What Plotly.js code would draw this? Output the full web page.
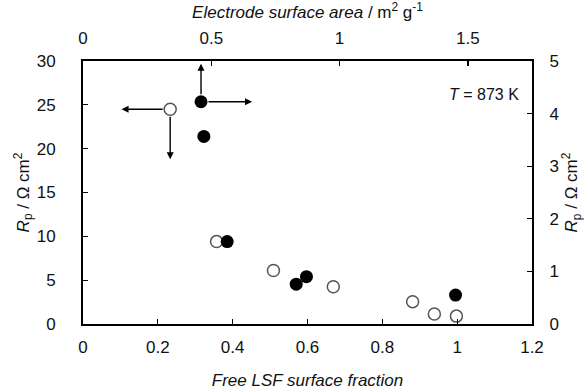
<!DOCTYPE html>
<html>
<head>
<meta charset="utf-8">
<script src="https://cdn.plot.ly/plotly-3.0.1.min.js"></script>
<style>html,body{margin:0;padding:0;background:#fff;}#chart{width:584px;height:390px;}</style>
</head>
<body>
<div id="chart"></div>
<script>
// Open circles: free LSF surface fraction (bottom axis) vs Rp (left axis, ohm cm2)
const lsfFraction = [0.233, 0.357, 0.509, 0.669, 0.881, 0.939, 0.998];
const rpOpen = [24.5, 9.4, 6.1, 4.25, 2.55, 1.15, 0.9];
// Filled circles: electrode surface area (top axis, m2/g) vs Rp (right axis, ohm cm2)
const surfaceArea = [0.460, 0.471, 0.562, 0.831, 0.871, 1.452];
const rpFilled = [4.225, 3.567, 1.567, 0.758, 0.90, 0.55];

const xTicksBottom = [0, 0.2, 0.4, 0.6, 0.8, 1, 1.2];
const xTicksTop = [0, 0.5, 1, 1.5];
const yTicksLeft = [0, 5, 10, 15, 20, 25, 30];
const yTicksRight = [0, 1, 2, 3, 4, 5];

const FONT = 'Liberation Sans, Arial, sans-serif';

const traces = [
  {
    x: lsfFraction, y: rpOpen, xaxis: 'x', yaxis: 'y',
    mode: 'markers', type: 'scatter', cliponaxis: false,
    marker: {size: 12, color: '#ffffff', line: {color: '#555555', width: 1.5}},
    showlegend: false
  },
  {
    x: surfaceArea, y: rpFilled, xaxis: 'x2', yaxis: 'y2',
    mode: 'markers', type: 'scatter', cliponaxis: false,
    marker: {size: 13, color: '#000000', line: {color: '#000000', width: 0}},
    showlegend: false
  }
];

const axisCommon = {
  showline: true, linecolor: '#000', linewidth: 2,
  ticks: 'inside', ticklen: 5, tickwidth: 1.3, tickcolor: '#000',
  showgrid: false, zeroline: false,
  tickfont: {family: FONT, size: 17, color: '#111'}
};

// arrows pointing from the reference points to their axes
const annotations = [
  {xref: 'x2', yref: 'y2', axref: 'x2', ayref: 'y2',
   x: surfaceArea[0], y: 4.95, ax: surfaceArea[0], ay: rpFilled[0],
   showarrow: true, arrowhead: 2, arrowsize: 1, arrowwidth: 1.4, arrowcolor: '#000', startstandoff: 6, text: ''},
  {xref: 'x2', yref: 'y2', axref: 'x2', ayref: 'y2',
   x: 0.659, y: rpFilled[0], ax: surfaceArea[0], ay: rpFilled[0],
   showarrow: true, arrowhead: 2, arrowsize: 1, arrowwidth: 1.4, arrowcolor: '#000', startstandoff: 6, text: ''},
  {xref: 'x', yref: 'y', axref: 'x', ayref: 'y',
   x: 0.103, y: rpOpen[0], ax: lsfFraction[0], ay: rpOpen[0],
   showarrow: true, arrowhead: 2, arrowsize: 1, arrowwidth: 1.4, arrowcolor: '#000', startstandoff: 6, text: ''},
  {xref: 'x', yref: 'y', axref: 'x', ayref: 'y',
   x: lsfFraction[0], y: 18.8, ax: lsfFraction[0], ay: rpOpen[0],
   showarrow: true, arrowhead: 2, arrowsize: 1, arrowwidth: 1.4, arrowcolor: '#000', startstandoff: 6, text: ''},
  {xref: 'x', yref: 'y', x: 1.17, y: 26.2, xanchor: 'right', yanchor: 'middle',
   text: '<i>T</i> = 873 K', showarrow: false,
   font: {family: FONT, size: 16, color: '#111'}}
];

const layout = {
  width: 584, height: 390,
  margin: {l: 83, r: 52, t: 61, b: 66, pad: 0},
  paper_bgcolor: '#fff', plot_bgcolor: '#fff',
  showlegend: false,
  font: {family: FONT, color: '#111'},
  xaxis: Object.assign({}, axisCommon, {
    range: [0, 1.2], tickvals: xTicksBottom, ticktext: xTicksBottom.map(String),
    ticklabelstandoff: 7,
    title: {text: '<i>Free LSF surface fraction</i>', font: {family: FONT, size: 17, color: '#111'}, standoff: 19}
  }),
  yaxis: Object.assign({}, axisCommon, {
    range: [0, 30], tickvals: yTicksLeft, ticktext: yTicksLeft.map(String),
    ticklabelstandoff: 22,
    title: {text: '<i>R</i><sub>p</sub> / Ω cm<sup>2</sup>', font: {family: FONT, size: 17, color: '#111'}, standoff: 3}
  }),
  xaxis2: Object.assign({}, axisCommon, {
    overlaying: 'x', side: 'top', anchor: 'y2',
    range: [0, 1.75], tickvals: xTicksTop, ticktext: xTicksTop.map(String),
    ticklabelstandoff: 8,
    title: {text: '<i>Electrode surface area</i> / m<sup>2</sup> g<sup>-1</sup>', font: {family: FONT, size: 17, color: '#111'}, standoff: 7}
  }),
  yaxis2: Object.assign({}, axisCommon, {
    overlaying: 'y', side: 'right', anchor: 'x2',
    range: [0, 5], tickvals: yTicksRight, ticktext: yTicksRight.map(String),
    ticklabelstandoff: 12,
    title: {text: '<i>R</i><sub>p</sub> / Ω cm<sup>2</sup>', font: {family: FONT, size: 17, color: '#111'}, standoff: 10}
  }),
  annotations: annotations
};

Plotly.newPlot('chart', traces, layout, {staticPlot: true, displayModeBar: false});
</script>
</body>
</html>
